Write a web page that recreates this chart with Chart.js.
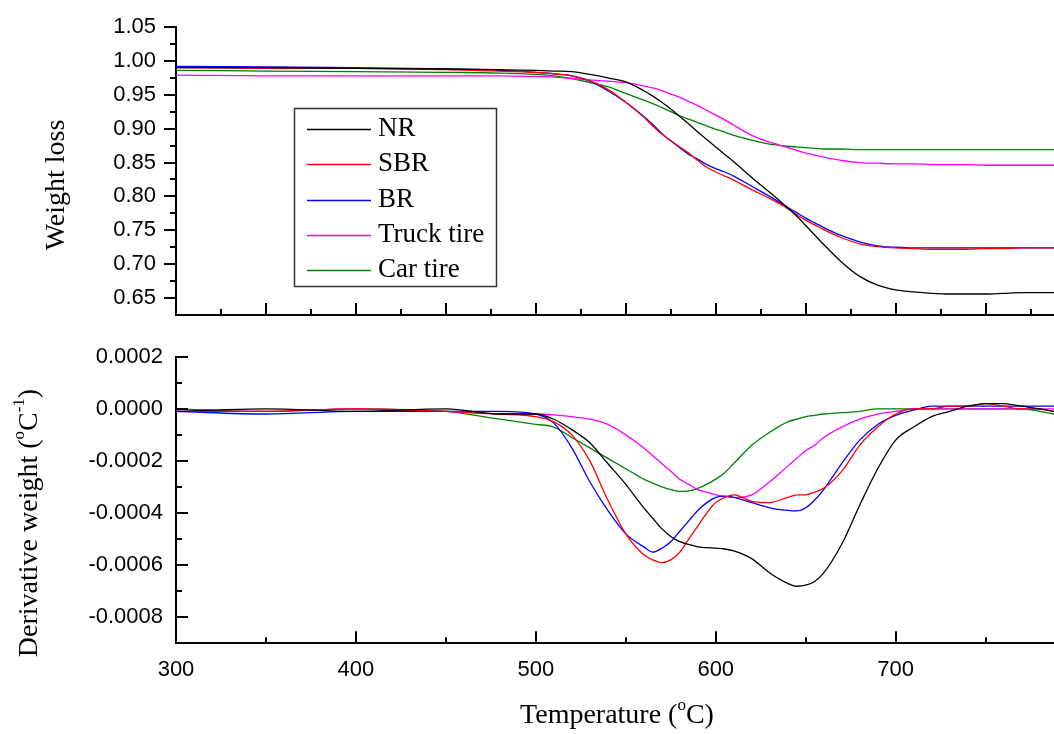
<!DOCTYPE html>
<html>
<head>
<meta charset="utf-8">
<script src="https://cdn.jsdelivr.net/npm/chart.js@4.4.1/dist/chart.umd.min.js"></script>
<style>
  html, body { margin: 0; padding: 0; background: #fff; }
  #wrap { position: relative; width: 1054px; height: 734px; overflow: hidden; }
  canvas { position: absolute; left: 0; }
  #topChart { top: 0; }
  #bottomChart { top: 330px; }
</style>
</head>
<body>
<div id="wrap">
  <canvas id="topChart" width="1054" height="330"></canvas>
  <canvas id="bottomChart" width="1054" height="404"></canvas>
</div>
<script>
// temperature grid (°C)
const temps = [300, 350, 400, 450, 480, 500, 510, 520, 530, 540, 550, 560, 565, 570, 575, 580, 585, 590, 595, 600,
  605, 610, 620, 630, 640, 645, 650, 655, 660, 670, 680, 690, 700, 710, 720, 730, 740, 750, 760, 770, 780, 788];

const labels = ["NR", "SBR", "BR", "Truck tire", "Car tire"];
const colors = ["#000000", "#ff0000", "#0000ff", "#ff00ff", "#008000"];

// weight loss (top panel)
const wlNR = [0.990, 0.990, 0.989, 0.988, 0.987, 0.986, 0.985, 0.984, 0.980, 0.975, 0.969, 0.956, 0.948, 0.939, 0.929, 0.918, 0.907, 0.895, 0.884, 0.873,
  0.862, 0.851, 0.828, 0.806, 0.783, 0.771, 0.757, 0.743, 0.729, 0.703, 0.682, 0.669, 0.662, 0.659, 0.657, 0.656, 0.656, 0.656, 0.657, 0.658, 0.658, 0.658];
const wlSBR = [0.990, 0.989, 0.989, 0.987, 0.985, 0.983, 0.981, 0.978, 0.971, 0.958, 0.939, 0.917, 0.904, 0.892, 0.882, 0.873, 0.864, 0.853, 0.843, 0.836,
  0.830, 0.824, 0.810, 0.797, 0.782, 0.773, 0.765, 0.758, 0.751, 0.739, 0.730, 0.726, 0.724, 0.723, 0.722, 0.722, 0.722, 0.723, 0.723, 0.724, 0.724, 0.724];
const wlBR = [0.992, 0.991, 0.990, 0.988, 0.986, 0.983, 0.981, 0.978, 0.970, 0.956, 0.939, 0.918, 0.906, 0.893, 0.882, 0.872, 0.862, 0.855, 0.847, 0.841,
  0.836, 0.830, 0.815, 0.800, 0.784, 0.776, 0.768, 0.761, 0.754, 0.742, 0.733, 0.727, 0.725, 0.724, 0.724, 0.724, 0.724, 0.724, 0.724, 0.724, 0.724, 0.724];
const wlTruck = [0.979, 0.978, 0.978, 0.978, 0.978, 0.977, 0.976, 0.974, 0.972, 0.970, 0.968, 0.963, 0.960, 0.956, 0.951, 0.946, 0.940, 0.934, 0.927, 0.920,
  0.913, 0.905, 0.890, 0.880, 0.872, 0.868, 0.864, 0.861, 0.858, 0.853, 0.850, 0.849, 0.848, 0.848, 0.847, 0.847, 0.847, 0.846, 0.846, 0.846, 0.846, 0.846];
const wlCar = [0.986, 0.985, 0.984, 0.983, 0.982, 0.980, 0.978, 0.974, 0.968, 0.962, 0.952, 0.942, 0.937, 0.931, 0.925, 0.919, 0.914, 0.909, 0.904, 0.899,
  0.895, 0.890, 0.883, 0.877, 0.874, 0.873, 0.872, 0.871, 0.870, 0.870, 0.869, 0.869, 0.869, 0.869, 0.869, 0.869, 0.869, 0.869, 0.869, 0.869, 0.869, 0.869];

// derivative weight (bottom panel)
const dwNR = [-0.00001, 0.0, -0.00001, 0.0, -0.00002, -0.00002, -0.00004, -0.00008, -0.00013, -0.00021, -0.00029, -0.00038, -0.00042, -0.00046, -0.00049, -0.00051, -0.00052, -0.00053, -0.000533, -0.000535,
  -0.000538, -0.000545, -0.000575, -0.00063, -0.00067, -0.000681, -0.000677, -0.000663, -0.00063, -0.00052, -0.00037, -0.00023, -0.00012, -0.00007, -0.00003, -0.00001, 0.00001, 0.00002, 0.00002, 0.00001, 0.0, -0.00001];
const dwSBR = [-0.00001, -0.00001, 0.0, -0.00001, -0.00002, -0.00003, -0.00005, -0.00010, -0.00020, -0.00035, -0.00048, -0.00056, -0.00058, -0.00059, -0.00058, -0.00055, -0.00050, -0.00045, -0.00040, -0.00036,
  -0.00034, -0.00033, -0.000355, -0.00036, -0.00034, -0.00033, -0.00033, -0.00032, -0.000305, -0.00024, -0.00014, -0.00007, -0.00002, 0.0, 0.0, 0.00001, 0.00001, 0.00002, 0.00001, 0.0, 0.0, -0.00001];
const dwBR = [-0.00001, -0.00002, -0.00001, -0.00001, -0.00001, -0.00002, -0.000055, -0.00015, -0.00028, -0.00039, -0.00048, -0.00053, -0.00055, -0.000535, -0.00051, -0.00047, -0.00043, -0.00039, -0.00036, -0.00034,
  -0.000335, -0.00034, -0.00036, -0.00038, -0.00039, -0.000392, -0.00038, -0.00035, -0.00031, -0.00021, -0.00012, -0.00006, -0.000025, -0.000005, 0.00001, 0.00001, 0.00001, 0.00001, 0.00001, 0.00001, 0.00001, 0.00001];
const dwTruck = [-0.00001, -0.00001, 0.0, -0.00001, -0.00002, -0.00002, -0.000023, -0.00003, -0.00004, -0.00006, -0.00010, -0.00015, -0.00018, -0.00021, -0.00024, -0.00027, -0.00029, -0.00031, -0.00032, -0.00033,
  -0.000337, -0.00034, -0.00033, -0.00028, -0.00022, -0.00019, -0.00016, -0.00014, -0.00011, -0.00007, -0.00004, -0.00002, -0.00001, 0.0, 0.0, 0.0, 0.0, 0.0, 0.0, 0.0, 0.0, 0.0];
const dwCar = [0.0, -0.00001, 0.0, -0.00001, -0.00004, -0.00006, -0.00007, -0.00011, -0.00015, -0.00019, -0.00023, -0.00027, -0.000285, -0.00030, -0.00031, -0.000317, -0.000315, -0.000305, -0.00029, -0.00027,
  -0.000245, -0.00021, -0.00014, -0.00009, -0.00005, -0.00004, -0.00003, -0.000025, -0.00002, -0.000015, -0.00001, 0.0, 0.0, 0.0, 0.0, 0.0, 0.0, 0.0, 0.0, 0.0, -0.00001, -0.00002];

// axis ticks
const xMajorTop = [300, 350, 400, 450, 500, 550, 600, 650, 700, 750];
const xMinorTop = [325, 375, 425, 475, 525, 575, 625, 675, 725, 775];
const xMajorBottom = [300, 400, 500, 600, 700];
const xMinorBottom = [350, 450, 550, 650, 750];
const wlTicks = [0.65, 0.70, 0.75, 0.80, 0.85, 0.90, 0.95, 1.00, 1.05];
const wlMinor = [0.675, 0.725, 0.775, 0.825, 0.875, 0.925, 0.975, 1.025];
const dwTicks = [-0.0008, -0.0006, -0.0004, -0.0002, 0.0, 0.0002];
const dwMinor = [-0.0007, -0.0005, -0.0003, -0.0001, 0.0001];

const tickFont = { family: "'Liberation Sans', Arial, sans-serif", size: 22 };
const serif = "'Liberation Serif', 'Times New Roman', serif";

function makeDatasets(seriesList) {
  return seriesList.map((vals, i) => ({
    label: labels[i],
    data: temps.map((t, j) => ({ x: t, y: vals[j] })),
    borderColor: colors[i],
    borderWidth: 1.3,
    pointRadius: 0,
    fill: false,
    cubicInterpolationMode: "monotone"
  }));
}

// tick marks drawn through the scales (inward / outward)
function tickMarks(specs) {
  return {
    id: "tickMarks",
    afterDraw(chart) {
      const ctx = chart.ctx, area = chart.chartArea;
      ctx.save();
      ctx.strokeStyle = "#000";
      ctx.lineWidth = 2;
      specs.forEach(spec => {
        const scale = chart.scales[spec.axis];
        [[spec.major, 12], [spec.minor, 6]].forEach(([vals, len]) => {
          vals.forEach(v => {
            const p = Math.round(scale.getPixelForValue(v));
            ctx.beginPath();
            if (spec.axis === "x") {
              ctx.moveTo(p, area.bottom);
              ctx.lineTo(p, area.bottom - len);
            } else {
              const dir = spec.inward ? 1 : -1;
              ctx.moveTo(area.left, p);
              ctx.lineTo(area.left + dir * len, p);
            }
            ctx.stroke();
          });
        });
      });
      ctx.restore();
    }
  };
}

// text with superscripts: parts = [[text, isSup], ...]
function drawRich(ctx, parts, cx, cy, size, rotate) {
  ctx.save();
  ctx.translate(cx, cy);
  if (rotate) ctx.rotate(-Math.PI / 2);
  ctx.fillStyle = "#000";
  ctx.textBaseline = "middle";
  ctx.textAlign = "left";
  let total = 0;
  parts.forEach(([t, sup]) => {
    ctx.font = (sup ? Math.round(size * 0.6) : size) + "px " + serif;
    total += ctx.measureText(t).width;
  });
  let x = -total / 2;
  parts.forEach(([t, sup]) => {
    ctx.font = (sup ? Math.round(size * 0.6) : size) + "px " + serif;
    ctx.fillText(t, x, sup ? -size * 0.38 : 0);
    x += ctx.measureText(t).width;
  });
  ctx.restore();
}

function titlesPlugin(items) {
  return {
    id: "titles",
    afterDraw(chart) {
      items.forEach(it => drawRich(chart.ctx, it.parts, it.x, it.y, 28, it.rotate));
    }
  };
}

const legendBox = {
  id: "legendBox",
  afterDraw(chart) {
    const ctx = chart.ctx;
    ctx.save();
    ctx.strokeStyle = "#333";
    ctx.lineWidth = 1.5;
    ctx.strokeRect(294.5, 108.5, 202, 178);
    chart.data.datasets.forEach((ds, i) => {
      const y = 129 + i * 35.3;
      ctx.strokeStyle = ds.borderColor;
      ctx.lineWidth = 1.5;
      ctx.beginPath();
      ctx.moveTo(307, Math.round(y) + 0.5);
      ctx.lineTo(371, Math.round(y) + 0.5);
      ctx.stroke();
      ctx.fillStyle = "#000";
      ctx.font = "27px " + serif;
      ctx.textBaseline = "middle";
      ctx.textAlign = "left";
      ctx.fillText(ds.label, 378, y);
    });
    ctx.restore();
  }
};

function fixedTicks(arr) {
  return scale => { scale.ticks = arr.map(v => ({ value: v })); };
}

// fixed axis size, and no extra label padding pushed into the layout
function fixSize(prop, size) {
  return scale => {
    scale[prop] = size;
    scale.paddingTop = 0;
    scale.paddingBottom = 0;
    scale.paddingLeft = 0;
    scale.paddingRight = 0;
  };
}

const noGrid = { display: false, drawTicks: false };
const axisLine = { display: true, color: "#000", width: 2 };

new Chart(document.getElementById("topChart"), {
  type: "line",
  data: { datasets: makeDatasets([wlNR, wlSBR, wlBR, wlTruck, wlCar]) },
  options: {
    responsive: false,
    animation: false,
    devicePixelRatio: 1,
    layout: { autoPadding: false, padding: { top: 27, left: 0, right: 0, bottom: 0 } },
    plugins: { legend: { display: false }, tooltip: { enabled: false } },
    scales: {
      x: {
        type: "linear", min: 300, max: 788,
        grid: noGrid,
        border: axisLine,
        ticks: { display: false },
        afterFit: fixSize("height", 15)
      },
      y: {
        min: 0.625, max: 1.05,
        grid: noGrid,
        border: axisLine,
        afterBuildTicks: fixedTicks(wlTicks),
        ticks: { color: "#000", font: tickFont, padding: 20, callback: v => v.toFixed(2) },
        afterFit: fixSize("width", 176)
      }
    }
  },
  plugins: [
    tickMarks([
      { axis: "x", major: xMajorTop, minor: xMinorTop },
      { axis: "y", major: wlTicks, minor: wlMinor, inward: false }
    ]),
    titlesPlugin([{ parts: [["Weight loss", false]], x: 57, y: 185, rotate: true }]),
    legendBox
  ]
});

new Chart(document.getElementById("bottomChart"), {
  type: "line",
  data: { datasets: makeDatasets([dwNR, dwSBR, dwBR, dwTruck, dwCar]) },
  options: {
    responsive: false,
    animation: false,
    devicePixelRatio: 1,
    layout: { autoPadding: false, padding: { top: 26.7, left: 0, right: 0, bottom: 0 } },
    plugins: { legend: { display: false }, tooltip: { enabled: false } },
    scales: {
      x: {
        type: "linear", min: 300, max: 788,
        grid: noGrid,
        border: axisLine,
        afterBuildTicks: fixedTicks(xMajorBottom),
        ticks: { color: "#000", font: tickFont, padding: 13, maxRotation: 0, callback: v => String(v) },
        afterFit: fixSize("height", 90.7)
      },
      y: {
        min: -0.0009, max: 0.0002,
        grid: noGrid,
        border: axisLine,
        afterBuildTicks: fixedTicks(dwTicks),
        ticks: { color: "#000", font: tickFont, padding: 13, callback: v => v.toFixed(4) },
        afterFit: fixSize("width", 176)
      }
    }
  },
  plugins: [
    tickMarks([
      { axis: "x", major: xMajorBottom, minor: xMinorBottom },
      { axis: "y", major: dwTicks, minor: dwMinor, inward: true }
    ]),
    titlesPlugin([
      { parts: [["Derivative weight (", false], ["o", true], ["C", false], ["-1", true], [")", false]], x: 30, y: 193, rotate: true },
      { parts: [["Temperature (", false], ["o", true], ["C)", false]], x: 617, y: 386, rotate: false }
    ])
  ]
});
</script>
</body>
</html>
